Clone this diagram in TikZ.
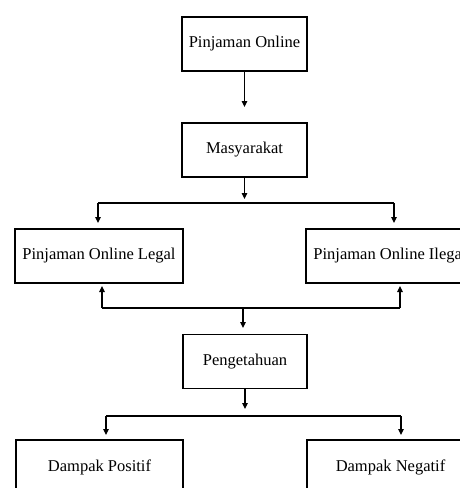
\documentclass[tikz,border=0pt]{standalone}
\usepackage{fontspec}
\setmainfont{Liberation Serif}
\usetikzlibrary{arrows.meta}
\begin{document}
\begin{tikzpicture}[x=1pt,y=-1pt,
 box/.style={draw,line width=1.8pt,minimum height=54pt,inner sep=0pt,font=\fontsize{16.5}{18}\selectfont,fill=white},
 con/.style={line width=1.2pt},
 arr/.style={con,-{Triangle[width=5.5pt,length=6pt]}}]
\useasboundingbox (0,0) rectangle (460,488);
\clip (0,0) rectangle (460,488);
% boxes
\node[box,minimum width=125pt] (po) at (244.5,44) {Pinjaman Online};
\node[box,minimum width=125pt] (mas) at (244.5,150) {Masyarakat};
\node[box,minimum width=168pt] (legal) at (99,256) {Pinjaman Online Legal};
\node[box,minimum width=168pt] (ilegal) at (390,256) {Pinjaman Online Ilegal};
\node[box,minimum width=124pt] (peng) at (245,361.5) {Pengetahuan};
\node[box,minimum width=167pt] (pos) at (99.5,467) {Dampak Positif};
\node[box,minimum width=167pt] (neg) at (390.5,467) {Dampak Negatif};
% junction coordinates
\coordinate (t1) at (244.5,107);
\coordinate (t2) at (244.5,199);
\coordinate (h1l) at (98,203);
\coordinate (h1r) at (394,203);
\coordinate (t3l) at (98,223);
\coordinate (t3r) at (394,223);
\coordinate (h2l) at (102,308);
\coordinate (h2r) at (400,308);
\coordinate (h2m) at (243,308);
\coordinate (t4l) at (102,286);
\coordinate (t4r) at (400,286);
\coordinate (t5) at (243,328);
\coordinate (t6) at (245,409);
\coordinate (h3l) at (106,416);
\coordinate (h3r) at (401,416);
\coordinate (t7l) at (106,435);
\coordinate (t7r) at (401,435);
% connectors
\draw[arr] (po.south) -- (t1);
\draw[arr] (mas.south) -- (t2);
\draw[con] (h1l) -- (h1r);
\draw[arr] (h1l) -- (t3l);
\draw[arr] (h1r) -- (t3r);
\draw[con] (h2l) -- (h2r);
\draw[arr] (h2l) -- (t4l);
\draw[arr] (h2r) -- (t4r);
\draw[arr] (h2m) -- (t5);
\draw[arr] (peng.south) -- (t6);
\draw[con] (h3l) -- (h3r);
\draw[arr] (h3l) -- (t7l);
\draw[arr] (h3r) -- (t7r);
\end{tikzpicture}
\end{document}
